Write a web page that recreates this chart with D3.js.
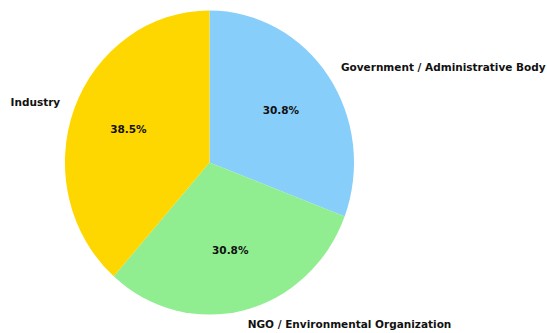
<!DOCTYPE html>
<html>
<head>
<meta charset="utf-8">
<script src="https://cdn.jsdelivr.net/npm/d3@7"></script>
<style>
  html, body { margin: 0; padding: 0; background: #fff; }
  svg { display: block; }
  text { font-family: "DejaVu Sans", sans-serif; font-weight: bold; fill: #111; }
</style>
</head>
<body>
<svg id="chart" width="547" height="333"></svg>
<script>
// Stakeholder groups and their counts
const categories = ["Government / Administrative Body", "NGO / Environmental Organization", "Industry"];
const counts = [4, 4, 5];
const colors = ["#87CEFA", "#90EE90", "#FFD700"];

const width = 547, height = 333;
const cx = 209.5, cy = 162.5;
const rx = 144.5, ry = 152;   // axes are not square, so the pie is slightly oval

const svg = d3.select("#chart");
const total = d3.sum(counts);

const pie = d3.pie().sort(null).value(d => d.value);
const arcs = pie(categories.map((c, i) => ({ name: c, value: counts[i], color: colors[i] })));

const unitArc = d3.arc().innerRadius(0).outerRadius(1);

svg.append("g")
  .attr("transform", `translate(${cx},${cy}) scale(${rx},${ry})`)
  .selectAll("path")
  .data(arcs)
  .join("path")
  .attr("d", unitArc)
  .attr("fill", d => d.data.color);

function pos(d, k) {
  const a = (d.startAngle + d.endAngle) / 2;
  return [cx + k * rx * Math.sin(a), cy - k * ry * Math.cos(a)];
}

// category labels outside the wedges
svg.append("g")
  .selectAll("text")
  .data(arcs)
  .join("text")
  .attr("x", d => pos(d, 1.105)[0])
  .attr("y", d => pos(d, 1.1)[1])
  .attr("dy", "0.3em")
  .attr("text-anchor", d => pos(d, 1.1)[0] >= cx ? "start" : "end")
  .style("font-size", "10.5px")
  .text(d => d.data.name);

// percentage labels inside the wedges
svg.append("g")
  .selectAll("text")
  .data(arcs)
  .join("text")
  .attr("x", d => pos(d, 0.6)[0])
  .attr("y", d => pos(d, 0.6)[1])
  .attr("dy", "0.3em")
  .attr("text-anchor", "middle")
  .style("font-size", "10.5px")
  .text(d => (d.data.value / total * 100).toFixed(1) + "%");
</script>
</body>
</html>
